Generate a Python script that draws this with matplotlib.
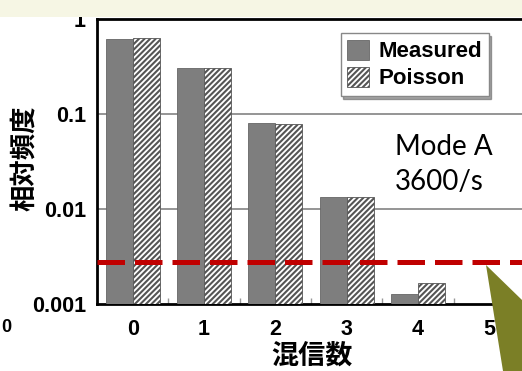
import matplotlib
matplotlib.use("Agg")
import matplotlib.pyplot as plt
import numpy as np
from matplotlib.patches import Rectangle, Polygon

categories = ["0", "1", "2", "3", "4", "5"]
measured = [0.615, 0.304, 0.080, 0.0135, 0.00128, 0.0005]
poisson = [0.63, 0.305, 0.078, 0.0135, 0.00167, 0.0004]
threshold = 0.0028
ytick_vals = [0.001, 0.01, 0.1, 1]
ytick_labels = ["0.001", "0.01", "0.1", "1"]

W, H = 522, 371
fig = plt.figure(figsize=(W / 100, H / 100), dpi=100)
fig.patch.set_facecolor("white")
plt.rcParams['hatch.linewidth'] = 1.5

# top beige band
fig.patches.append(Rectangle((0, 1 - 17 / H), 1, 17 / H, transform=fig.transFigure,
                             facecolor="#f6f6e4", edgecolor="none", zorder=0))

ax = fig.add_axes([97 / W, (H - 304) / H, 428 / W, 285 / H])
ax.set_facecolor("white")
x = np.arange(len(categories))
bw = 0.38
ax.bar(x - bw / 2, measured, width=bw, color="#7e7e7e", edgecolor="#666666",
       linewidth=0.6, label="Measured", zorder=3)
ax.bar(x + bw / 2, poisson, width=bw, color="white", edgecolor="#555555",
       hatch="//////", linewidth=0.6, label="Poisson", zorder=3)

ax.set_yscale("log")
ax.set_ylim(0.001, 1)
ax.set_xlim(-0.5, 5.5)
ax.set_yticks(ytick_vals)
ax.set_yticklabels(ytick_labels)
ax.yaxis.set_minor_locator(matplotlib.ticker.NullLocator())
ax.set_xticks(x)
ax.set_xticklabels(categories)
ax.set_xticks(np.arange(0.5, 5.5, 1), minor=True)
ax.tick_params(axis="x", which="major", length=0, pad=11)
ax.tick_params(axis="x", which="minor", length=4, direction="in", color="#999999", width=1)
ax.tick_params(axis="y", length=0, pad=8)
for lab in ax.get_xticklabels() + ax.get_yticklabels():
    lab.set_fontfamily("Liberation Sans")
    lab.set_fontweight("bold")
    lab.set_fontsize(15.5)

for v in [0.1, 0.01]:
    ax.axhline(v, color="#8c8c8c", linewidth=1.3, zorder=2)

for s in ["left", "bottom", "top"]:
    ax.spines[s].set_linewidth(2)
    ax.spines[s].set_color("black")
ax.spines["right"].set_visible(False)

ax.axhline(threshold, color="#c00000", linewidth=3.6, dashes=(5.5, 2.0), zorder=5)

leg = ax.legend(loc="upper right", bbox_to_anchor=(0.915, 0.95), shadow=True,
                fancybox=False, framealpha=1, edgecolor="#888888",
                prop={"family": "Liberation Sans", "weight": "bold", "size": 16},
                handlelength=1.0, handleheight=1.0, handletextpad=0.4,
                borderpad=0.3, labelspacing=0.2, borderaxespad=0)
leg.get_frame().set_linewidth(1)

fig.text(25 / W, 1 - 158 / H, "相対頻度", family=["Noto Sans CJK JP", "DejaVu Sans"],
         fontweight="bold", fontsize=19, rotation=90, ha="center", va="center")
fig.text(312 / W, 1 - 356 / H, "混信数", family=["Noto Sans CJK JP", "DejaVu Sans"],
         fontweight="bold", fontsize=19.5, ha="center", va="center")

fig.text(395 / W, 1 - 155 / H, "Mode A", family="Lato", fontsize=20, va="baseline", color="black")
fig.text(395 / W, 1 - 190 / H, "3600/s", family="Lato", fontsize=20, va="baseline", color="black")

fig.text(1 / W, 1 - 328 / H, "0", family="Liberation Sans", fontweight="bold",
         fontsize=13, va="center", ha="left")

poly = Polygon([(486 / W, 1 - 265 / H), (503 / W, 0), (1, 0), (1, 1 - 300 / H)],
               closed=True, transform=fig.transFigure, facecolor="#7b7f26",
               edgecolor="none", zorder=10)
fig.patches.append(poly)

fig.savefig("out.png", dpi=100)
